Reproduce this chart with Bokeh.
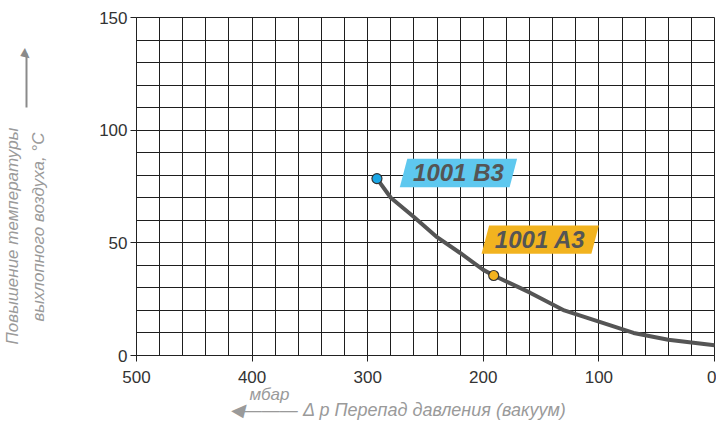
from bokeh.plotting import figure
from bokeh.models import Range1d, SingleIntervalTicker, FixedTicker, LinearAxis
from bokeh.core.properties import value
from bokeh.embed import file_html
from bokeh.resources import INLINE

# ---- data ----
pressure_mbar = [292, 280, 260, 240, 220, 200, 191, 160, 130, 100, 70, 40, 0]
temp_rise_c = [78.5, 70, 61.5, 52.5, 45.5, 38, 35.5, 28, 20, 15, 10, 7, 4.5]

models = ["1001 B3", "1001 A3"]
model_pressure = [292, 191]
model_temp = [78.5, 35.5]
model_colors = ["#1aa7e6", "#f2b31f"]
tag_colors = ["#5ec8ef", "#f2b31f"]
tag_x = [221.5, 150.75]
tag_y = [81.0, 51.4]

x_ticks = [500, 400, 300, 200, 100, 0]
y_ticks = [0, 50, 100, 150]

y_title_lines = ["Повышение температуры", "выхлопного воздуха, °C"]
x_unit = "мбар"
x_title = "Δ p Перепад давления (вакуум)"

FONT = "Liberation Sans"
GRAY = "#9a9a9a"
ARROW_GRAY = "#8a8a8a"

p = figure(width=716, height=427, output_backend="svg", toolbar_location=None,
           x_range=Range1d(500, 0), y_range=Range1d(0, 150),
           min_border_left=136, min_border_right=2, min_border_top=17, min_border_bottom=72)
p.background_fill_color = "white"
p.border_fill_color = "white"
p.outline_line_color = "#222222"

# grid
p.xgrid.ticker = SingleIntervalTicker(interval=20)
p.ygrid.ticker = SingleIntervalTicker(interval=10)
p.xgrid.bounds = (0, 500)
p.ygrid.bounds = (0, 150)
for g in (p.xgrid, p.ygrid):
    g.grid_line_color = "#1e1e1e"
    g.grid_line_width = 1

# main axes
p.xaxis.ticker = FixedTicker(ticks=x_ticks)
p.yaxis.ticker = FixedTicker(ticks=y_ticks)
for ax in (p.xaxis, p.yaxis):
    ax.axis_line_color = "#222222"
    ax.major_tick_line_color = "#222222"
    ax.major_tick_in = 0
    ax.major_tick_out = 6
    ax.minor_tick_line_color = None
    ax.major_label_text_font = FONT
    ax.major_label_text_font_size = "17px"
    ax.major_label_text_color = "#333333"
p.xaxis.major_label_standoff = 9
p.yaxis.major_label_standoff = 3


def text_axis(ticks, labels, standoff, size, color, orientation, bounds=None, line=False, style="italic"):
    ax = LinearAxis(ticker=FixedTicker(ticks=ticks, minor_ticks=[]),
                    major_label_overrides={t: lab for t, lab in zip(ticks, labels)},
                    major_label_standoff=standoff, major_label_orientation=orientation,
                    major_label_text_font=FONT, major_label_text_font_style=style,
                    major_label_text_font_size=size, major_label_text_color=color,
                    major_tick_in=0, major_tick_out=0, major_tick_line_color=None,
                    minor_tick_line_color=None,
                    axis_line_color=ARROW_GRAY if line else None, axis_line_width=2)
    if bounds is not None:
        ax.bounds = bounds
    return ax


# left side: second title line, arrow, first title line
p.add_layout(text_axis([57], [y_title_lines[1]], 48, "17px", GRAY, "vertical"), "left")
p.add_layout(text_axis([134], ["▶"], -5, "12px", ARROW_GRAY, "vertical",
                       bounds=(110, 134), line=True), "left")
p.add_layout(text_axis([53], [y_title_lines[0]], -8, "17px", GRAY, "vertical"), "left")

# bottom: unit, then arrow + title
p.add_layout(text_axis([385], [x_unit], -1, "17px", GRAY, "horizontal"), "below")
p.add_layout(text_axis([390, 242], ["◀———", x_title], -7, "18px", GRAY, "horizontal"), "below")

# curve
p.line(pressure_mbar, temp_rise_c, line_color="#555555", line_width=4, line_cap="round", line_join="round")

# model tags (parallelograms)
hw, hh, sl = 47.5, 6.3, 3.25
xs = [[cx + hw + sl, cx - hw + sl, cx - hw - sl, cx + hw - sl] for cx in tag_x]
ys = [[cy - hh, cy - hh, cy + hh, cy + hh] for cy in tag_y]
p.patches(xs, ys, fill_color=tag_colors, line_color=None)
p.text(tag_x, tag_y, text=models, text_align="center", text_baseline="middle",
       text_font=value(FONT), text_font_style="bold italic", text_font_size="24px", text_color="#555555")

# model points
p.scatter(model_pressure, model_temp, size=10, fill_color=model_colors, line_color="#333333", line_width=1.2)

open("out.html", "w").write(file_html(p, INLINE))
